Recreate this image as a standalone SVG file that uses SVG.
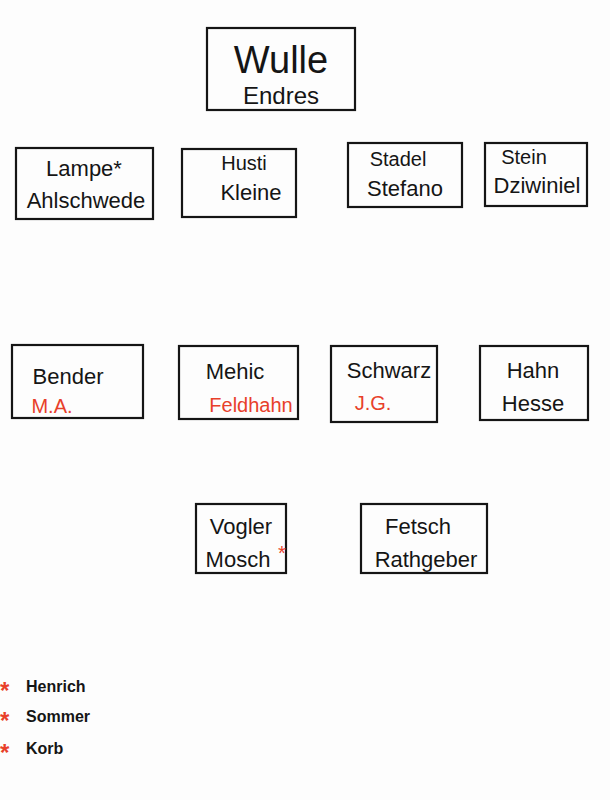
<svg xmlns="http://www.w3.org/2000/svg" width="610" height="800" viewBox="0 0 610 800">
<style>
.b{fill:none;stroke:#151515;stroke-width:2.2}
.t{font-family:"Liberation Sans",sans-serif;fill:#151515;text-anchor:middle;font-size:22px}
.l{font-family:"Liberation Sans",sans-serif;font-size:16px;font-weight:bold;fill:#151515}
.s{font-family:"Liberation Sans",sans-serif;font-size:24px;font-weight:bold;fill:#e8402a}
</style>
<rect width="610" height="800" fill="#fdfdfd"/>
<g id="wulle"><rect class="b" x="207" y="28" width="148" height="82"/><text class="t" x="281" y="73" style="font-size:38px">Wulle</text><text class="t" x="281" y="104" style="font-size:24px">Endres</text></g>
<g id="lampe"><rect class="b" x="16" y="148" width="137" height="71"/><text class="t" x="84" y="176">Lampe*</text><text class="t" x="86" y="208">Ahlschwede</text></g>
<g id="husti"><rect class="b" x="182" y="149" width="114" height="68"/><text class="t" x="244" y="170" style="font-size:20px">Husti</text><text class="t" x="251" y="200">Kleine</text></g>
<g id="stadel"><rect class="b" x="348" y="143" width="114" height="64"/><text class="t" x="398" y="166" style="font-size:20px">Stadel</text><text class="t" x="405" y="196">Stefano</text></g>
<g id="stein"><rect class="b" x="485" y="143" width="102" height="63"/><text class="t" x="524" y="164" style="font-size:20px">Stein</text><text class="t" x="537" y="193">Dziwiniel</text></g>
<g id="bender"><rect class="b" x="12" y="345" width="131" height="73"/><text class="t" x="68" y="384">Bender</text><text class="t" x="52" y="413" style="font-size:20px;fill:#e8402a">M.A.</text></g>
<g id="mehic"><rect class="b" x="179" y="346" width="119" height="73"/><text class="t" x="235" y="379">Mehic</text><text class="t" x="251" y="412" style="font-size:20px;fill:#e8402a">Feldhahn</text></g>
<g id="schwarz"><rect class="b" x="331" y="346" width="106" height="76"/><text class="t" x="389" y="378">Schwarz</text><text class="t" x="373" y="410" style="font-size:20px;fill:#e8402a">J.G.</text></g>
<g id="hahn"><rect class="b" x="480" y="346" width="108" height="74"/><text class="t" x="533" y="378">Hahn</text><text class="t" x="533" y="411">Hesse</text></g>
<g id="vogler"><rect class="b" x="196" y="504" width="90" height="69"/><text class="t" x="241" y="534">Vogler</text><text class="t" x="238" y="567">Mosch</text><text class="t" x="282" y="560" style="font-size:20px;fill:#e8402a">*</text></g>
<g id="fetsch"><rect class="b" x="361" y="504" width="126" height="69"/><text class="t" x="418" y="534">Fetsch</text><text class="t" x="426" y="567">Rathgeber</text></g>
<g id="legend">
<text class="s" x="0" y="699">*</text><text class="l" x="26" y="692">Henrich</text>
<text class="s" x="0" y="729">*</text><text class="l" x="26" y="722">Sommer</text>
<text class="s" x="0" y="761">*</text><text class="l" x="26" y="754">Korb</text>
</g>
<g id="connectors"></g>
</svg>
